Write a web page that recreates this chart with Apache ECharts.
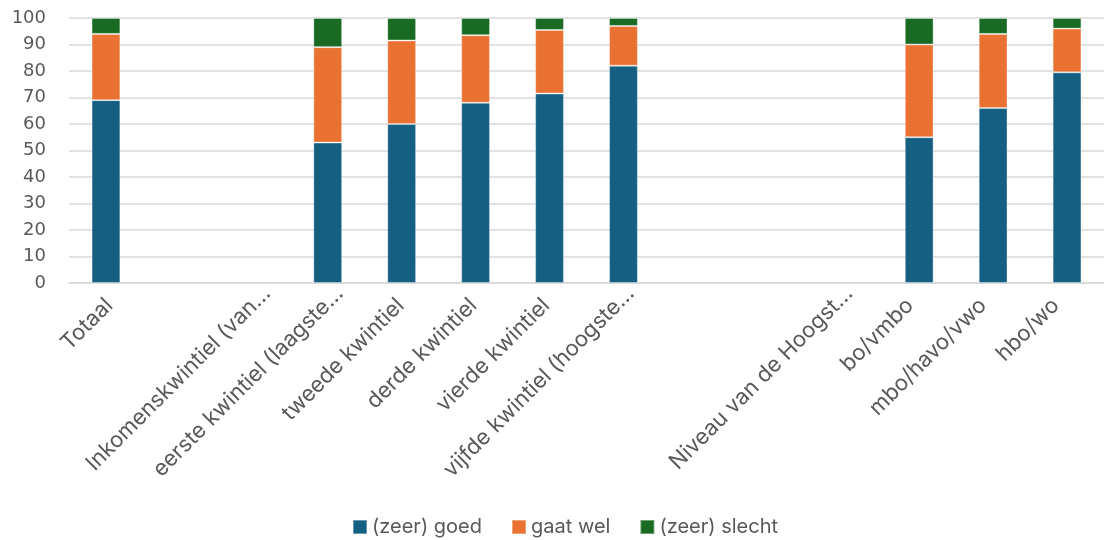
<!DOCTYPE html>
<html>
<head>
<meta charset="utf-8">
<script src="https://cdn.jsdelivr.net/npm/echarts@6/dist/echarts.min.js"></script>
<style>
  html, body { margin: 0; padding: 0; background: #fff; }
  #chart { width: 1104px; height: 540px; }
</style>
</head>
<body>
<div id="chart"></div>
<script>
// Categories (blank entries are spacer slots between groups)
const categories = [
  'Totaal', '', 'Inkomenskwintiel (van…', 'eerste kwintiel (laagste…',
  'tweede kwintiel', 'derde kwintiel', 'vierde kwintiel', 'vijfde kwintiel (hoogste…',
  '', '', 'Niveau van de Hoogst…', 'bo/vmbo', 'mbo/havo/vwo', 'hbo/wo'
];
const seriesNames = ['(zeer) goed', 'gaat wel', '(zeer) slecht'];
const goed    = [69, null, null, 53, 60, 68, 71.5, 82, null, null, null, 55, 66, 79.5];
const gaatWel = [25, null, null, 36, 31.5, 25.5, 24, 15, null, null, null, 35, 28, 16.5];
const slecht  = [6, null, null, 11, 8.5, 6.5, 4.5, 3, null, null, null, 10, 6, 4];
const yTicks = { min: 0, max: 100, interval: 10 };

const colors = ['#156082', '#E97132', '#196B24'];
const font = 'Inter, "Open Sans", sans-serif';

// Plot geometry; the label grid is nudged right so rotated labels hang past their ticks
const plot = { left: 69, top: 18, width: 1045, height: 265 };
const labelShift = 16;

// Shortened (…) labels run right up to the anchor, full labels sit back a little
const labelItems = categories.map(c => ({
  value: c,
  textStyle: { padding: c.endsWith('…') ? [0, 0, 0, 0] : [0, 17, 0, 0] }
}));

const chart = echarts.init(document.getElementById('chart'), null, { renderer: 'canvas' });

function barSeries(name, data, color) {
  return {
    name, type: 'bar', stack: 'total', data,
    xAxisIndex: 0, yAxisIndex: 0,
    barWidth: '39%',
    itemStyle: { color, borderColor: 'rgba(255,255,255,0.35)', borderWidth: 1 },
    emphasis: { disabled: true }
  };
}

chart.setOption({
  animation: false,
  color: colors,
  grid: [
    { ...plot },
    { ...plot, left: plot.left + labelShift }
  ],
  xAxis: [
    {
      type: 'category', gridIndex: 0, data: categories,
      axisLine: { lineStyle: { color: '#D9D9D9', width: 1.5 } },
      axisTick: { show: false },
      axisLabel: { show: false }
    },
    {
      type: 'category', gridIndex: 1, data: labelItems,
      axisLine: { show: false },
      axisTick: { show: false },
      axisLabel: {
        interval: 0, rotate: 45, color: '#595959',
        fontFamily: font, fontSize: 22, margin: 7
      }
    }
  ],
  yAxis: [
    {
      type: 'value', gridIndex: 0,
      min: yTicks.min, max: yTicks.max, interval: yTicks.interval,
      axisLine: { show: false },
      axisTick: { show: false },
      splitLine: { lineStyle: { color: '#D9D9D9', width: 1.5 } },
      axisLabel: { color: '#595959', fontFamily: '"DejaVu Sans", sans-serif', fontSize: 18, margin: 23 }
    },
    { type: 'value', gridIndex: 1, show: false, min: 0, max: 100 }
  ],
  legend: {
    top: 517, left: 352, padding: 0,
    itemWidth: 14, itemHeight: 14, itemGap: 29,
    icon: 'rect',
    textStyle: { color: '#595959', fontFamily: font, fontSize: 20 },
    data: seriesNames
  },
  series: [
    barSeries(seriesNames[0], goed, colors[0]),
    barSeries(seriesNames[1], gaatWel, colors[1]),
    barSeries(seriesNames[2], slecht, colors[2])
  ]
});
</script>
</body>
</html>
